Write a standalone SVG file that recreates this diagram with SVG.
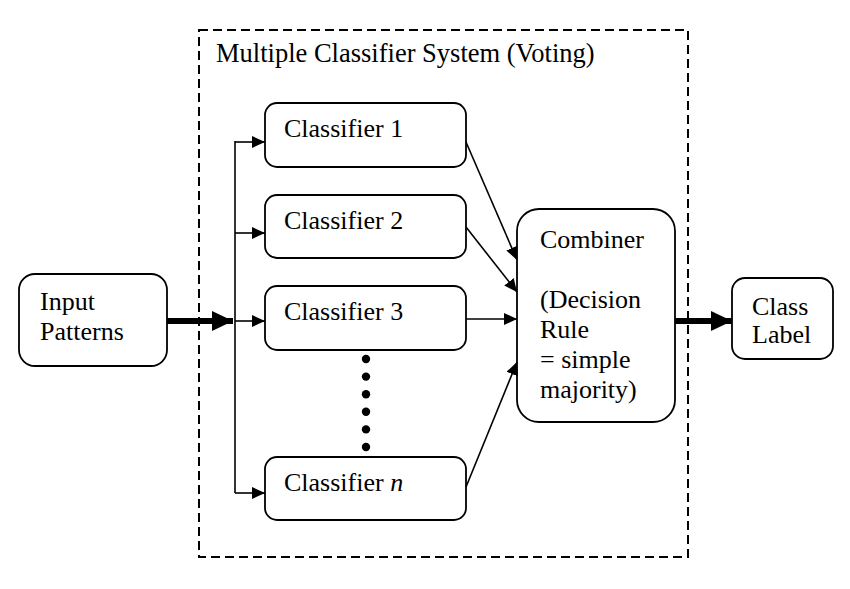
<svg xmlns="http://www.w3.org/2000/svg" width="850" height="589" viewBox="0 0 850 589">
<style>
text{font-family:'Liberation Serif','Times New Roman',serif;font-size:26px;fill:#000}
.box{fill:#fff;stroke:#000;stroke-width:1.8}
.thin{stroke:#000;stroke-width:1.6;fill:none}
.thick{stroke:#000;stroke-width:6;fill:none}
</style>
<defs>
<marker id="ah" markerUnits="userSpaceOnUse" markerWidth="14" markerHeight="12" refX="13" refY="6" orient="auto">
<path d="M0,0 L13,6 L0,12 Z" fill="#000"/>
</marker>
<marker id="ahb" markerUnits="userSpaceOnUse" markerWidth="22" markerHeight="20" refX="21" refY="10" orient="auto">
<path d="M0,0 L21,10 L0,20 Z" fill="#000"/>
</marker>
</defs>
<rect x="199" y="30" width="489" height="527" fill="none" stroke="#000" stroke-width="2" stroke-dasharray="9 5"/>
<text x="216" y="62" style="font-size:26.5px">Multiple Classifier System (Voting)</text>
<g id="input">
<rect class="box" x="19" y="274" width="148" height="92" rx="16"/>
<text x="40" y="310">Input</text>
<text x="40" y="340">Patterns</text>
</g>
<g id="c1">
<rect class="box" x="265" y="103" width="201" height="64" rx="12"/>
<text x="284" y="137">Classifier 1</text>
</g>
<g id="c2">
<rect class="box" x="265" y="195" width="201" height="63" rx="12"/>
<text x="284" y="229">Classifier 2</text>
</g>
<g id="c3">
<rect class="box" x="265" y="286" width="201" height="64" rx="12"/>
<text x="284" y="320">Classifier 3</text>
</g>
<g id="cn">
<rect class="box" x="265" y="457" width="201" height="63" rx="12"/>
<text x="284" y="491">Classifier <tspan font-style="italic">n</tspan></text>
</g>
<g id="dots" fill="#000">
<circle cx="366" cy="359" r="4.2"/>
<circle cx="366" cy="376.6" r="4.2"/>
<circle cx="366" cy="394.2" r="4.2"/>
<circle cx="366" cy="411.8" r="4.2"/>
<circle cx="366" cy="429.4" r="4.2"/>
<circle cx="366" cy="447" r="4.2"/>
</g>
<g id="combiner">
<rect class="box" x="517" y="209" width="158" height="213" rx="22"/>
<text x="540" y="248">Combiner</text>
<text x="540" y="308">(Decision</text>
<text x="540" y="338">Rule</text>
<text x="540" y="368">= simple</text>
<text x="540" y="398">majority)</text>
</g>
<g id="output">
<rect class="box" x="732" y="278" width="101" height="81" rx="13"/>
<text x="752" y="315">Class</text>
<text x="752" y="343">Label</text>
</g>
<g id="connectors">
<line class="thick" x1="167" y1="321" x2="233" y2="321" marker-end="url(#ahb)"/>
<line class="thin" x1="235" y1="141" x2="235" y2="493"/>
<line class="thin" x1="235" y1="142" x2="265" y2="142" marker-end="url(#ah)"/>
<line class="thin" x1="235" y1="233" x2="265" y2="233" marker-end="url(#ah)"/>
<line class="thin" x1="235" y1="321" x2="265" y2="321" marker-end="url(#ah)"/>
<line class="thin" x1="235" y1="493" x2="265" y2="493" marker-end="url(#ah)"/>
<line class="thin" x1="466" y1="142" x2="517" y2="260" marker-end="url(#ah)"/>
<line class="thin" x1="466" y1="227" x2="517" y2="292" marker-end="url(#ah)"/>
<line class="thin" x1="466" y1="319" x2="517" y2="319" marker-end="url(#ah)"/>
<line class="thin" x1="466" y1="487" x2="517" y2="362" marker-end="url(#ah)"/>
<line class="thick" x1="675" y1="321" x2="732" y2="321" marker-end="url(#ahb)"/>
</g>
</svg>
